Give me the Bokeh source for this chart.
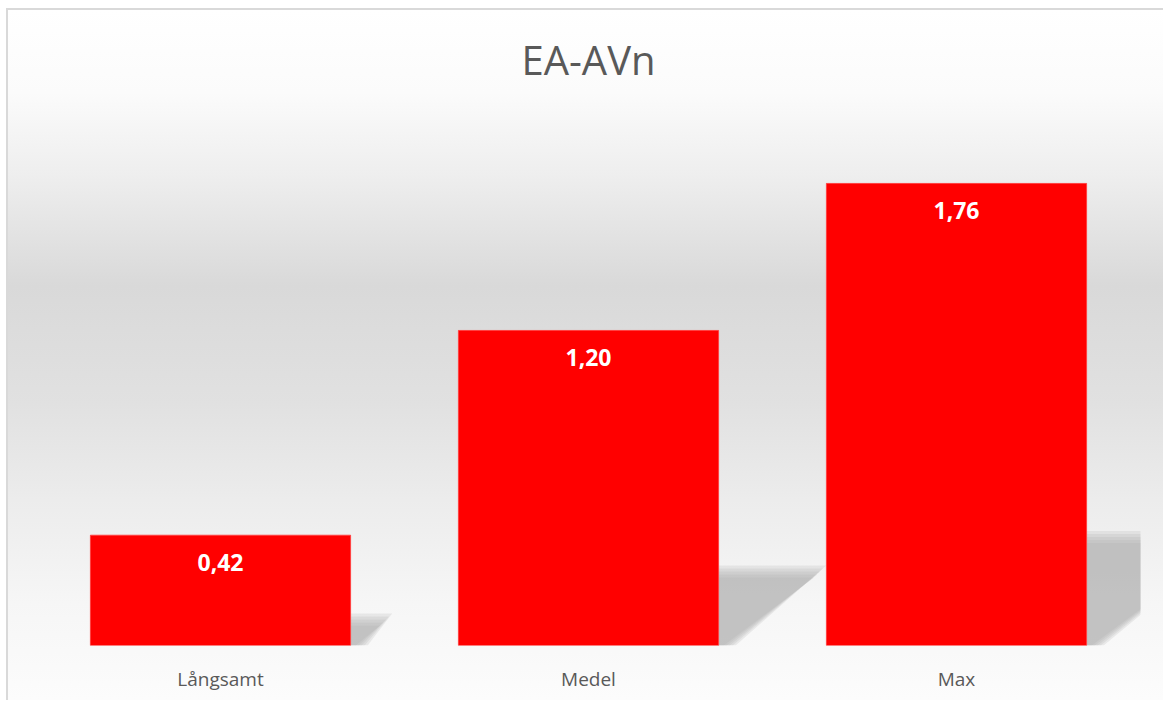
from bokeh.plotting import figure
from bokeh.models import Range1d, FixedTicker, ColumnDataSource
from bokeh.core.properties import value
from bokeh.embed import file_html
from bokeh.resources import INLINE

# ---- data ----
categories = ["Långsamt", "Medel", "Max"]
values = [0.42, 1.20, 1.76]
value_labels = ["0,42", "1,20", "1,76"]
title_text = "EA-AVn"

# ---- style constants ----
BAR_W = 0.707
PX_Y = 1 / 262.5      # data units per pixel (y)
PX_X = 1 / 368.67     # data units per pixel (x)
SH_H = 0.235          # shadow height relative to value
SH_W = 0.23           # shadow top width (category units) per unit value
SH_B = 0.03           # shadow bottom offset

xs_idx = list(range(len(categories)))

p = figure(width=1157, height=692, output_backend="svg", toolbar_location=None,
           x_range=Range1d(-0.5, len(categories) - 0.5),
           y_range=Range1d(0, 2.095),
           min_border_left=28, min_border_right=25, min_border_bottom=57, min_border_top=85)

p.styles = {
    "margin-left": "6px",
    "margin-top": "8px",
    "border-left": "2px solid #d9d9d9",
    "border-top": "2px solid #d9d9d9",
    "background-image": "linear-gradient(to bottom, #ffffff 0%, #fbfbfb 12%, #eeeeee 24%, #d9d9d9 40%, #e1e1e1 57%, #ececec 71%, #f6f6f6 86%, #fcfcfc 100%)",
}
p.background_fill_alpha = 0
p.border_fill_alpha = 0
p.outline_line_color = None
p.grid.visible = False
p.yaxis.visible = False

p.title.text = title_text
p.title.align = "center"
p.title.text_font = "Open Sans"
p.title.text_font_style = "normal"
p.title.text_font_size = "40px"
p.title.text_color = "#595959"
p.title.standoff = 17

# shadows (several layers to imitate blur)
for j in range(5):
    d = (j - 2) * 3
    sx, sy = [], []
    for i, v in zip(xs_idx, values):
        xr = i + BAR_W / 2
        top = SH_H * v + d * PX_Y
        sx.append([xr, xr, xr + SH_W * v + d * PX_X, xr + SH_B + d * PX_X])
        sy.append([0, top, top, 0])
    p.patches(xs=sx, ys=sy, fill_color="#a8a8a8", fill_alpha=0.2, line_color=None)

src = ColumnDataSource(dict(x=xs_idx, top=values, lab=value_labels))
p.vbar(x="x", top="top", width=BAR_W, source=src, fill_color="#ff0000",
       line_color="#ff4040", line_width=1)
p.text(x="x", y="top", text="lab", source=src, text_align="center",
       text_baseline="top", y_offset=19, text_color="white",
       text_font=value("Open Sans"), text_font_style="bold", text_font_size="23px")

ax = p.xaxis[0]
ax.ticker = FixedTicker(ticks=xs_idx)
ax.major_label_overrides = {i: c for i, c in zip(xs_idx, categories)}
ax.axis_line_color = None
ax.major_tick_line_color = None
ax.minor_tick_line_color = None
ax.major_label_text_font = "Open Sans"
ax.major_label_text_font_size = "19px"
ax.major_label_text_color = "#595959"
ax.major_label_standoff = 14

open("out.html", "w").write(file_html(p, INLINE))
